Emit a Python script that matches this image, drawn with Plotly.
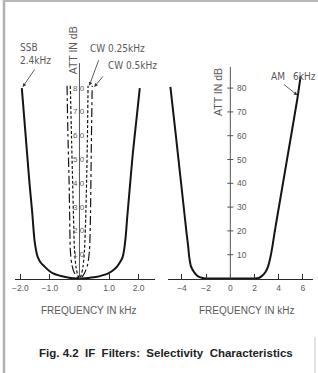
import plotly.graph_objects as go

# ---------------- data ----------------
ssb_freq = [-1.95, -1.82, -1.69, -1.60, -1.55, -1.52, -1.47, -1.41, -1.30, -1.18, -1.05, -0.91, -0.70,
            -0.51, -0.30, -0.10, 0.0, 0.10, 0.30, 0.60, 0.80, 0.99, 1.15, 1.27, 1.38, 1.46, 1.51,
            1.55, 1.58, 1.61, 1.68, 1.80, 1.92, 2.04]
ssb_att = [80, 60, 40, 28, 20, 16, 12, 9, 6.5, 5, 3.5, 2.3, 1.3,
           0.7, 0.2, 0, 0, 0, 0.2, 0.7, 1.4, 2.3, 3.6, 5, 7, 9, 12,
           16, 20, 25, 35, 52, 66, 80]

cw05_freq = [-0.42, -0.39, -0.35, -0.33, -0.31, -0.26, -0.18, -0.08, 0.0, 0.08, 0.18, 0.28, 0.34, 0.37, 0.40, 0.43]
cw05_att = [81, 60, 40, 25, 12, 6, 2.5, 0.5, 0, 0.5, 2.5, 6, 12, 25, 55, 81]

cw025_freq = [-0.31, -0.27, -0.23, -0.20, -0.17, -0.12, -0.06, 0.0, 0.06, 0.12, 0.17, 0.21, 0.24, 0.27, 0.29]
cw025_att = [81, 60, 40, 25, 12, 5, 1.5, 0, 1.5, 5, 12, 25, 40, 60, 81]

am_freq = [-4.96, -4.55, -4.16, -3.75, -3.62, -3.50, -3.40, -3.25, -3.00, -2.70, -2.30, -2.00, 0.0,
           2.00, 2.35, 2.60, 2.91, 3.12, 3.32, 3.50, 3.65, 3.85, 4.69, 5.53, 5.82]
am_att = [80.5, 62, 44, 25, 19, 14, 9, 5, 2.7, 1, 0.2, 0, 0,
          0, 0.2, 1, 2.7, 5, 9, 14, 19, 25, 50, 75, 85]

db_ticks = [10, 20, 30, 40, 50, 60, 70, 80]
db_labels = ["10", "20", "30", "40", "50", "60", "70", "80"]
left_xticks = [-2, -1, 0, 1, 2]
left_xlabels = ["−2.0", "−1.0", "0", "1.0", "2.0"]
right_xticks = [-4, -2, 0, 2, 4, 6]
right_xlabels = ["−4", "−2", "0", "2", "4", "6"]

# ---------------- geometry helpers (pixels) ----------------
W, H = 318, 373
def px(x):
    return x / W
def py(y):
    return 1 - y / H

Y0PX, PXDB = 278.5, 2.38          # 0 dB row, pixels per dB
YTOP, YBOT = 40, 290
yrange = [(Y0PX - YBOT) / PXDB, (Y0PX - YTOP) / PXDB]
ydomain = [py(YBOT), py(YTOP)]

L0, LS = 77.2, 29.85              # left panel zero column & px per kHz
R0, RS = 229.5, 12.2              # right panel
LX = (12, 153)
RX = (167, 313)

ink = "#151515"
grey = "#5a5a5a"
lab_font = dict(family="Liberation Sans Narrow, Arial Narrow, DejaVu Sans Condensed, Liberation Sans", size=10, color=grey)
tick_font = dict(family="Liberation Sans", size=8.5, color=grey)
small_tick_font = dict(family="Liberation Sans", size=8, color=grey)

fig = go.Figure()
fig.add_trace(go.Scatter(x=ssb_freq, y=ssb_att, mode="lines", xaxis="x", yaxis="y",
                         line=dict(color=ink, width=2, shape="spline", smoothing=0.6), name="SSB 2.4kHz"))
fig.add_trace(go.Scatter(x=cw05_freq, y=cw05_att, mode="lines", xaxis="x", yaxis="y",
                         line=dict(color=ink, width=1.2, dash="dashdot", shape="spline", smoothing=0.6), name="CW 0.5kHz"))
fig.add_trace(go.Scatter(x=cw025_freq, y=cw025_att, mode="lines", xaxis="x", yaxis="y",
                         line=dict(color=ink, width=1.2, dash="3px,2px", shape="spline", smoothing=0.6), name="CW 0.25kHz"))
fig.add_trace(go.Scatter(x=am_freq, y=am_att, mode="lines", xaxis="x2", yaxis="y2",
                         line=dict(color=ink, width=2, shape="spline", smoothing=0.6), name="AM 6kHz"))

xcommon = dict(anchor="free", position=py(279), showline=True, linecolor="#2a2a2a", linewidth=1.3,
               ticks="inside", ticklen=5, tickwidth=1, tickcolor="#2a2a2a", showgrid=False, zeroline=False,
               tickfont=tick_font, fixedrange=True)
ycommon = dict(range=yrange, domain=ydomain, visible=False, showgrid=False, zeroline=False, fixedrange=True)

fig.update_layout(
    width=W, height=H, margin=dict(l=0, r=0, t=0, b=0), autosize=False,
    paper_bgcolor="white", plot_bgcolor="rgba(0,0,0,0)", showlegend=False,
    xaxis=dict(domain=[px(LX[0]), px(LX[1])], range=[(LX[0] - L0) / LS, (LX[1] - L0) / LS],
               tickvals=left_xticks, ticktext=left_xlabels, **xcommon),
    xaxis2=dict(domain=[px(RX[0]), px(RX[1])], range=[(RX[0] - R0) / RS, (RX[1] - R0) / RS],
                tickvals=right_xticks, ticktext=right_xlabels, **xcommon),
    yaxis=dict(anchor="x", **ycommon),
    yaxis2=dict(anchor="x2", **ycommon),
)

shapes = []
ann = []
# vertical axes
shapes.append(dict(type="line", xref="x", yref="y", x0=0, x1=0, y0=0, y1=90.5, line=dict(color="#555", width=1)))
shapes.append(dict(type="line", xref="x2", yref="y2", x0=0, x1=0, y0=0, y1=88.9, line=dict(color="#555", width=1)))
for v, t in zip(db_ticks, db_labels):
    shapes.append(dict(type="line", xref="x2", yref="y2", xsizemode="pixel", xanchor=0, x0=-3, x1=3,
                       y0=v, y1=v, line=dict(color="#555", width=1)))
    ann.append(dict(xref="x", yref="y", x=0, y=v, text="\u00a0".join(t), showarrow=False,
                    xanchor="center", yanchor="middle", font=small_tick_font))
    ann.append(dict(xref="x2", yref="y2", x=0, y=v, text=t, showarrow=False, xshift=5,
                    xanchor="left", yanchor="middle", font=tick_font))

# axis titles
ann.append(dict(xref="paper", yref="paper", x=px(71), y=py(50), text="ATT IN dB", textangle=-90,
                showarrow=False, xanchor="center", yanchor="middle", font=dict(family="Liberation Sans", size=10.5, color=grey)))
ann.append(dict(xref="paper", yref="paper", x=px(217), y=py(92), text="ATT IN dB", textangle=-90,
                showarrow=False, xanchor="center", yanchor="middle", font=dict(family="Liberation Sans", size=10.5, color=grey)))
for cx in (86, 245.5):
    ann.append(dict(xref="paper", yref="paper", x=px(cx), y=py(310), text="FREQUENCY IN kHz",
                    showarrow=False, xanchor="center", yanchor="middle", font=dict(family="Liberation Sans", size=10, color=grey)))

# curve labels
ann.append(dict(xref="paper", yref="paper", x=px(15), y=py(54), text="SSB<br>2.4kHz", align="left",
                showarrow=False, xanchor="left", yanchor="middle", font=lab_font))
ann.append(dict(xref="paper", yref="paper", x=px(86), y=py(49), text="CW 0.25kHz",
                showarrow=False, xanchor="left", yanchor="middle", font=lab_font))
ann.append(dict(xref="paper", yref="paper", x=px(104), y=py(65), text="CW 0.5kHz",
                showarrow=False, xanchor="left", yanchor="middle", font=lab_font))
ann.append(dict(xref="paper", yref="paper", x=px(269), y=py(76), text="AM",
                showarrow=False, xanchor="left", yanchor="middle", font=lab_font))
ann.append(dict(xref="paper", yref="paper", x=px(291), y=py(76), text="6kHz",
                showarrow=False, xanchor="left", yanchor="middle", font=lab_font))

# arrows (tip at curve, tail offset in pixels)
arrow = dict(showarrow=True, text="", arrowhead=2, arrowsize=0.9, arrowwidth=0.8, arrowcolor="#333", standoff=0)
ann.append(dict(xref="x", yref="y", x=ssb_freq[0] + 0.03, y=ssb_att[0] + 0.5, ax=13, ay=-19, **arrow))
ann.append(dict(xref="x", yref="y", x=cw025_freq[-1] + 0.04, y=cw025_att[-1], ax=10, ay=-27, **arrow))
ann.append(dict(xref="x", yref="y", x=cw05_freq[-1] + 0.07, y=cw05_att[-1] - 0.5, ax=10, ay=-12, **arrow))
ann.append(dict(xref="x2", yref="y2", x=am_freq[-2] + 0.02, y=am_att[-2] + 2, ax=-15, ay=-12, **arrow))

# caption
ann.append(dict(xref="paper", yref="paper", x=px(165), y=py(353),
                text="<b>Fig. 4.2  IF  Filters:  Selectivity  Characteristics</b>", showarrow=False,
                xanchor="center", yanchor="middle", font=dict(family="Liberation Sans", size=11.5, color="#222")))

# page frame (scan edges)
shapes.append(dict(type="line", xref="paper", yref="paper", x0=px(1), x1=px(1), y0=0, y1=1, line=dict(color="#b0b0b0", width=2.5)))
shapes.append(dict(type="line", xref="paper", yref="paper", x0=0, x1=1, y0=py(1), y1=py(1), line=dict(color="#b8b8b8", width=2)))
shapes.append(dict(type="line", xref="paper", yref="paper", x0=px(315), x1=px(315), y0=py(337), y1=0, line=dict(color="#c8c8c8", width=1)))

fig.update_layout(shapes=shapes, annotations=ann)
fig.write_html("out.html", config={"displayModeBar": False, "staticPlot": True},
               post_script="document.body.style.margin='0';document.body.style.overflow='hidden';")
